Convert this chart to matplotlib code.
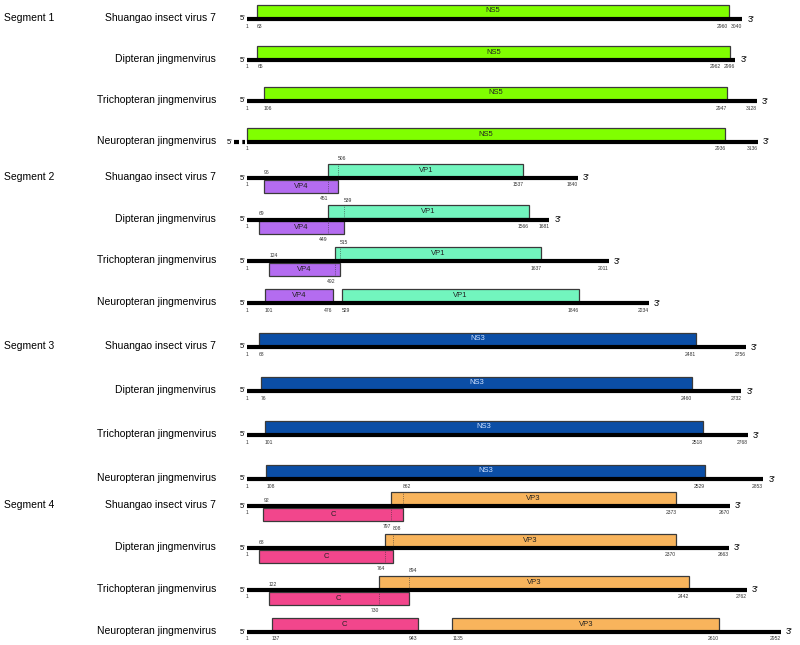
import matplotlib.pyplot as plt

plt.rcParams['font.family'] = ['Liberation Sans', 'DejaVu Sans']

W, H = 800, 645

segments = ["Segment 1", "Segment 2", "Segment 3", "Segment 4"]
viruses = ["Shuangao insect virus 7", "Dipteran jingmenvirus",
           "Trichopteran jingmenvirus", "Neuropteran jingmenvirus"]

# genome lengths (nt) for each segment, one per virus
len_seg1 = [3040, 2996, 3128, 3136]
len_seg2 = [1840, 1681, 2011, 2234]
len_seg3 = [2756, 2732, 2768, 2853]
len_seg4 = [2670, 2663, 2762, 2952]

# ORF coordinates (start, end)
ns5 = [(63, 2960), (65, 2962), (106, 2947), (1, 2936)]
vp4 = [(96, 506), (69, 539), (124, 515), (101, 476)]
vp1 = [(451, 1537), (449, 1566), (492, 1637), (529, 1846)]
ns3 = [(68, 2481), (76, 2460), (101, 2518), (108, 2529)]
c_orf = [(92, 862), (68, 808), (122, 894), (137, 943)]
vp3 = [(797, 2373), (764, 2370), (730, 2442), (1135, 2610)]

# layout (pixels)
x0 = 247
scales = [0.163, 0.18, 0.181, 0.181]
seg_top = [19, 178, 347, 506]
row_gap = [41, 41.7, 44, 42]
box_h = 13

fig = plt.figure(figsize=(W / 100, H / 100), dpi=100)


def num(ax, x, y, v, ha='center'):
    ax.text(x, y, str(v), fontsize=3.6, ha=ha, va='center', color='#333333')


def box(ax, start, end, y, above, color, label, tcolor='#222222'):
    h = -box_h if above else box_h
    base = y - 1.5 if above else y + 1.5
    ax.barh(base, end - start, left=start, height=h, align='edge',
            color=color, edgecolor='#3a3a3a', linewidth=0.9, zorder=2)
    ax.text((start + end) / 2, base + h / 2, label, fontsize=5.5,
            ha='center', va='center', color=tcolor, zorder=4)


def genome(ax, y, length, s, broken=False):
    ax.hlines(y, 1, length, color='black', lw=3, zorder=3)
    if broken:
        ax.hlines(y, 1 - 13 / s, 1 - 1.5 / s, color='black', lw=3,
                  linestyles=(0, (1.2, 0.8)), zorder=3)
        ax.text(1 - 15 / s, y, "5'", fontsize=5.5, ha='right', va='center')
    else:
        ax.text(1 - 2 / s, y, "5'", fontsize=5.5, ha='right', va='center')
    ax.text(length + 5 / s, y, "3'", fontsize=6.5, ha='left', va='center')


single = [(len_seg1, ns5, 'NS5', '#80ff00', '#222222'),
          (None, None, None, None, None),
          (len_seg3, ns3, 'NS3', '#0b4ea6', '#d0e2ff'),
          (None, None, None, None, None)]
double = {1: (len_seg2, vp4, 'VP4', '#b46cf0', vp1, 'VP1', '#72f5be'),
          3: (len_seg4, c_orf, 'C', '#f2468c', vp3, 'VP3', '#f8b45c')}

for k in range(4):
    s = scales[k]
    ax = fig.add_axes([0, 0, 1, 1])
    ax.set_xlim(1 - x0 / s, 1 + (W - x0) / s)
    ax.set_ylim(H, 0)
    ax.axis('off')
    ax.patch.set_alpha(0)

    fig.text(4 / W, 1 - (seg_top[k] - 1) / H, segments[k], fontsize=7.5,
             ha='left', va='center')

    for i in range(4):
        y = seg_top[k] + i * row_gap[k]
        fig.text(216 / W, 1 - (y - 1) / H, viruses[i], fontsize=7.5,
                 ha='right', va='center')

        if k in (0, 2):
            lens, orf, name, col, tcol = single[k]
            L = lens[i]
            a, b = orf[i]
            genome(ax, y, L, s, broken=(k == 0 and i == 3))
            box(ax, a, b, y, True, col, name, tcol)
            num(ax, 1, y + 7, 1)
            if a != 1:
                num(ax, a, y + 7, a, ha='left')
            # keep the ORF end label clear of the genome length label
            num(ax, min(b, L - 14 / s), y + 7, b, ha='right')
            num(ax, L, y + 7, L, ha='right')
        else:
            lens, lo, lo_name, lo_col, up, up_name, up_col = double[k]
            L = lens[i]
            a1, b1 = lo[i]
            a2, b2 = up[i]
            genome(ax, y, L, s)
            num(ax, 1, y + 7, 1)
            if i < 3:
                box(ax, a1, b1, y, False, lo_col, lo_name)
                box(ax, a2, b2, y, True, up_col, up_name)
                num(ax, a1, y - 6, a1, ha='left')
                num(ax, b2, y + 7, b2, ha='right')
                num(ax, L, y + 7, L, ha='right')
                # overlap markers
                ax.vlines(b1, y - 1.5 - box_h, y - 1.5, colors='#333333',
                          lw=0.5, linestyles=':', zorder=4)
                num(ax, b1, y - 19, b1, ha='left')
                ax.vlines(a2, y + 1.5, y + 1.5 + box_h, colors='#333333',
                          lw=0.5, linestyles=':', zorder=4)
                num(ax, a2, y + 20, a2, ha='right')
            else:
                box(ax, a1, b1, y, True, lo_col, lo_name)
                box(ax, a2, b2, y, True, up_col, up_name)
                num(ax, a1, y + 7, a1, ha='left')
                num(ax, b1, y + 7, b1, ha='right')
                num(ax, a2, y + 7, a2, ha='left')
                num(ax, b2, y + 7, b2, ha='right')
                num(ax, L, y + 7, L, ha='right')

fig.savefig('out.png', dpi=100)
